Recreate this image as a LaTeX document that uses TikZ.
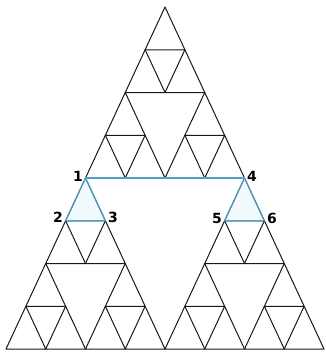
\documentclass[tikz,border=0pt]{standalone}
\usepackage{fontspec}
\newfontfamily\labelfont{DejaVu Sans}
\usepackage{xcolor}
\definecolor{edgeblue}{RGB}{80, 160, 200}
\definecolor{paleblue}{RGB}{242, 250, 253}
\usepackage{tikz}
\usetikzlibrary{
    positioning,
    calc
}
\newcommand{\cellw}{39.75}
\newcommand{\cellh}{42.75}

\begin{document}
\begin{tikzpicture}[
    x=1pt, y=-1pt,
    node distance=1.5pt,
    tri/.style={draw=black!90, line width=1pt, line join=round},
    hl/.style={draw=edgeblue, line width=1.1pt},
    lbl/.style={font=\labelfont\bfseries\fontsize{14}{16}\selectfont, inner sep=1pt}
]
\useasboundingbox (0,0) rectangle (325,354);

% ==================== CORNER POINTS ====================
\coordinate (apex) at (165,7);
\coordinate (p1) at ($(apex)+({-2*\cellw},{4*\cellh})$);
\coordinate (p2) at ($(apex)+({-2.5*\cellw},{5*\cellh})$);
\coordinate (p3) at ($(apex)+({-1.5*\cellw},{5*\cellh})$);
\coordinate (p4) at ($(apex)+({2*\cellw},{4*\cellh})$);
\coordinate (p5) at ($(apex)+({1.5*\cellw},{5*\cellh})$);
\coordinate (p6) at ($(apex)+({2.5*\cellw},{5*\cellh})$);

\fill[paleblue] (p1) -- (p2) -- (p3) -- cycle;
\fill[paleblue] (p4) -- (p5) -- (p6) -- cycle;

% ==================== SIERPINSKI CELLS ====================
\foreach \ax/\ay in {0/0,-1/1,1/1}{
    \foreach \bx/\by in {0/0,-1/1,1/1}{
        \foreach \cx/\cy in {0/0,-1/1,1/1}{
            \draw[tri] ($(apex)+({(4*(\ax)+2*(\bx)+(\cx))*\cellw/2},{(4*\ay+2*\by+\cy)*\cellh})$)
                -- ++({-\cellw/2},\cellh) -- ++(\cellw,0) -- cycle;
        }
    }
}

% ==================== HIGHLIGHTED EDGES ====================
\draw[hl] (p1) -- (p4);
\draw[hl] (p1) -- (p2) -- (p3) -- cycle;
\draw[hl] (p4) -- (p5) -- (p6) -- cycle;

% ==================== LABELS ====================
\node[lbl, left=of p1, yshift=1.5pt] (l1) {1};
\node[lbl, left=of p2, yshift=3pt] (l2) {2};
\node[lbl, right=of p3, yshift=3pt] (l3) {3};
\node[lbl, right=of p4, yshift=2pt] (l4) {4};
\node[lbl, left=of p5, yshift=2pt] (l5) {5};
\node[lbl, right=of p6, yshift=2pt] (l6) {6};

\end{tikzpicture}
\end{document}
